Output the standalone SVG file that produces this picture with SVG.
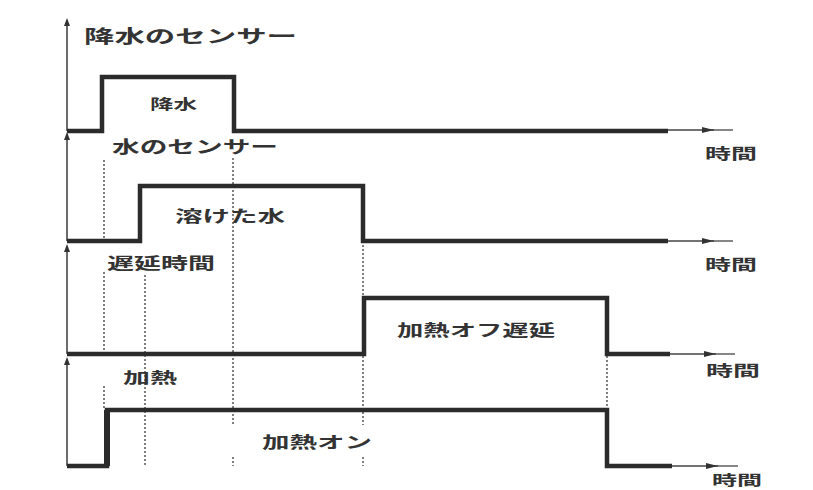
<svg xmlns="http://www.w3.org/2000/svg" width="813" height="490" viewBox="0 0 813 490">
<style>
.sig{fill:none;stroke:#2b2b2b;stroke-width:4.5;stroke-linejoin:miter}
.ax{fill:none;stroke:#3a3a3a;stroke-width:1.5}
.tx{fill:none;stroke:#444;stroke-width:1.3}
.dot{fill:none;stroke:#555;stroke-width:1.5;stroke-dasharray:2 2}
.t{font-family:"Noto Sans CJK JP","Noto Sans",sans-serif;fill:#333;font-weight:700}
</style>
<defs>
<marker id="up" markerWidth="8" markerHeight="8" refX="6" refY="3" orient="auto" markerUnits="userSpaceOnUse" viewBox="0 0 8 6"><path d="M0,0 L8,3 L0,6 Z" fill="#333"/></marker>
<marker id="arr" markerWidth="12" markerHeight="6" refX="12" refY="3" orient="auto" markerUnits="userSpaceOnUse" viewBox="0 0 12 6"><path d="M0,0 L12,3 L0,6 Z" fill="#333"/></marker>
</defs>
<rect width="813" height="490" fill="#fff"/>
<g id="connectors">
<line class="ax" x1="67" y1="131" x2="67" y2="20" marker-end="url(#up)"/>
<line class="ax" x1="67" y1="241" x2="67" y2="134" marker-end="url(#up)"/>
<line class="ax" x1="67" y1="354" x2="67" y2="246" marker-end="url(#up)"/>
<line class="ax" x1="67" y1="466" x2="67" y2="359" marker-end="url(#up)"/>
<line class="tx" x1="668" y1="130" x2="714" y2="130" marker-end="url(#arr)"/><line class="tx" x1="712" y1="130" x2="733" y2="130"/>
<line class="tx" x1="668" y1="241" x2="714" y2="241" marker-end="url(#arr)"/><line class="tx" x1="712" y1="241" x2="733" y2="241"/>
<line class="tx" x1="670" y1="354" x2="716" y2="354" marker-end="url(#arr)"/><line class="tx" x1="714" y1="354" x2="735" y2="354"/>
<line class="tx" x1="672" y1="466" x2="718" y2="466" marker-end="url(#arr)"/><line class="tx" x1="716" y1="466" x2="738" y2="466"/>
<path class="dot" d="M104,160 V240 M104,272 V352 M104,386 V410"/>
<path class="dot" d="M145,275 V466"/>
<path class="dot" d="M233,158 V425 M233,457 V466"/>
<path class="dot" d="M363,245 V298 M363,356 V425 M363,457 V466"/>
<path class="dot" d="M607,356 V410"/>
</g>
<g id="rain">
<polyline class="sig" points="67,131 102,131 102,77 234,77 234,131 668,131"/>
<text class="t" x="84" y="43" font-size="18" textLength="213" lengthAdjust="spacingAndGlyphs" font-weight="400">降水のセンサー</text>
<text class="t" x="150" y="109" font-size="14" textLength="47" lengthAdjust="spacingAndGlyphs">降水</text>
<text class="t" x="705" y="159" font-size="15" textLength="52" lengthAdjust="spacingAndGlyphs">時間</text>
</g>
<g id="water">
<polyline class="sig" points="67,241 140,241 140,186 363,186 363,241 668,241"/>
<text class="t" x="112" y="153" font-size="17" textLength="166" lengthAdjust="spacingAndGlyphs" font-weight="400">水のセンサー</text>
<text class="t" x="175" y="222" font-size="16" textLength="110" lengthAdjust="spacingAndGlyphs">溶けた水</text>
<text class="t" x="705" y="270" font-size="15" textLength="52" lengthAdjust="spacingAndGlyphs">時間</text>
</g>
<g id="delay">
<polyline class="sig" points="67,354 364,354 364,298 607,298 607,354 670,354"/>
<text class="t" x="107" y="269" font-size="16" textLength="108" lengthAdjust="spacingAndGlyphs">遅延時間</text>
<text class="t" x="397" y="336" font-size="16" textLength="158" lengthAdjust="spacingAndGlyphs">加熱オフ遅延</text>
<text class="t" x="706" y="376" font-size="15" textLength="54" lengthAdjust="spacingAndGlyphs">時間</text>
</g>
<g id="heat">
<polyline class="sig" points="67,466 107,466 107,410 607,410 607,466 672,466"/>
<line x1="107" y1="410" x2="107" y2="466" stroke="#2b2b2b" stroke-width="6"/>
<text class="t" x="123" y="383" font-size="15" textLength="54" lengthAdjust="spacingAndGlyphs">加熱</text>
<text class="t" x="262" y="448" font-size="16" textLength="110" lengthAdjust="spacingAndGlyphs">加熱オン</text>
<text class="t" x="712" y="485" font-size="14" textLength="50" lengthAdjust="spacingAndGlyphs">時間</text>
</g>
</svg>
